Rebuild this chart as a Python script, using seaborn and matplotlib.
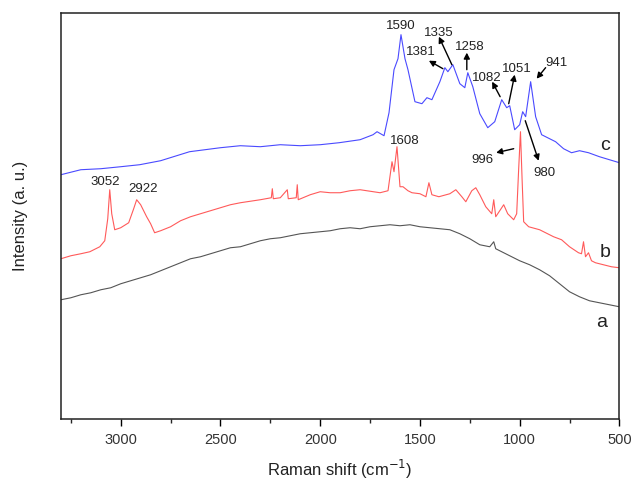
import numpy as np
import pandas as pd
import matplotlib
matplotlib.use("Agg")
import matplotlib.pyplot as plt
import seaborn as sns
from matplotlib.ticker import MultipleLocator

# spectrum a (black)
wave_a = [3300, 3250, 3200, 3150, 3100, 3050, 3000, 2950, 2900, 2850, 2800, 2750,
          2700, 2650, 2600, 2550, 2500, 2450, 2400, 2350, 2300, 2250, 2200, 2150,
          2100, 2050, 2000, 1950, 1900, 1850, 1800, 1750, 1700, 1650, 1600, 1550,
          1500, 1450, 1400, 1350, 1300, 1250, 1200, 1150, 1130, 1120, 1100, 1050,
          1000, 950, 900, 850, 800, 750, 700, 650, 600, 550, 500]
int_a = [119, 121, 124, 126, 129, 131, 135, 138, 141, 144, 148, 152,
         156, 160, 162, 165, 168, 171, 172, 175, 178, 180, 181, 183,
         185, 186, 187, 188, 190, 191, 190, 192, 193, 194, 193, 194,
         192, 191, 190, 189, 185, 180, 174, 172, 177, 170, 168, 163,
         158, 154, 149, 143, 135, 127, 122, 118, 116, 114, 112]

# spectrum b (red)
wave_b = [3300, 3250, 3200, 3155, 3105, 3080, 3065, 3055, 3045, 3030, 3000, 2960,
          2935, 2920, 2900, 2870, 2850, 2830, 2800, 2750, 2700, 2650, 2600, 2550,
          2500, 2450, 2400, 2300, 2245, 2240, 2235, 2200, 2165, 2160, 2120, 2115,
          2110, 2050, 2000, 1950, 1900, 1850, 1800, 1700, 1660, 1640, 1630, 1615,
          1600, 1585, 1560, 1540, 1500, 1470, 1455, 1440, 1405, 1350, 1320, 1290,
          1270, 1240, 1220, 1200, 1170, 1140, 1130, 1120, 1100, 1080, 1060, 1030,
          1015, 1005, 996, 988, 980, 955, 900, 870, 830, 790, 750, 705,
          690, 680, 670, 655, 640, 620, 580, 540, 500]
int_b = [160, 163, 165, 167, 172, 178, 200, 229, 205, 189, 191, 196,
         210, 219, 214, 202, 195, 186, 188, 192, 198, 202, 205, 208,
         211, 214, 216, 219, 221, 230, 220, 221, 229, 220, 221, 234,
         219, 224, 227, 226, 226, 228, 229, 226, 228, 257, 247, 272,
         232, 232, 228, 226, 225, 222, 236, 224, 222, 225, 229, 222,
         217, 228, 231, 224, 212, 205, 219, 202, 208, 214, 205, 199,
         205, 250, 287, 240, 197, 192, 189, 186, 182, 179, 172, 166,
         165, 177, 162, 166, 158, 156, 154, 152, 151]

# spectrum c (blue)
wave_c = [3300, 3200, 3100, 3000, 2905, 2800, 2655, 2500, 2400, 2300, 2200, 2100,
          2000, 1905, 1800, 1735, 1715, 1680, 1655, 1630, 1610, 1595, 1575, 1560,
          1525, 1490, 1465, 1440, 1400, 1375, 1360, 1335, 1300, 1275, 1260, 1235,
          1200, 1160, 1125, 1090, 1065, 1050, 1025, 1000, 985, 970, 945, 920,
          890, 850, 820, 780, 740, 700, 655, 600, 500]
int_c = [244, 249, 250, 252, 254, 258, 267, 271, 273, 272, 274, 273,
         274, 276, 279, 284, 287, 283, 306, 349, 360, 384, 360, 349,
         317, 315, 321, 319, 337, 351, 347, 354, 335, 331, 346, 332,
         305, 291, 297, 319, 311, 313, 289, 294, 307, 302, 337, 302,
         284, 280, 277, 270, 266, 268, 266, 262, 256]

# peak labels: text, text position, arrow (tail, head) or None
peak_text = ["1590", "1335", "1381", "1258", "1082", "1051", "941", "996", "980",
             "3052", "2922", "1608"]
peak_xy = [(1595, 393), (1405, 386), (1495, 367), (1250, 372), (1165, 341),
           (1015, 350), (815, 356), (1185, 259), (875, 246),
           (3080, 237), (2890, 230), (1575, 278)]
arrow_tail = [None, (1340, 354), (1385, 350), (1265, 349), (1098, 322),
              (1055, 315), (870, 351), (1030, 270), (972, 298), None, None, None]
arrow_head = [None, (1405, 382), (1455, 358), (1265, 366), (1138, 337),
              (1025, 344), (915, 340), (1118, 266), (905, 258), None, None, None]

curve_names = ["a", "b", "c"]
curve_name_xy = [(588, 96), (570, 166), (570, 273)]

sns.set_style("ticks")
plt.rcParams['font.family'] = ['Liberation Sans', 'DejaVu Sans']

fig = plt.figure(figsize=(6.34, 4.87), dpi=100)
ax = fig.add_axes([0.096, 0.140, 0.881, 0.834])

df_a = pd.DataFrame({"w": wave_a, "i": int_a})
df_b = pd.DataFrame({"w": wave_b, "i": int_b})
df_c = pd.DataFrame({"w": wave_c, "i": int_c})
sns.lineplot(data=df_a, x="w", y="i", color="#555555", lw=0.8, ax=ax, sort=False)
sns.lineplot(data=df_b, x="w", y="i", color="#ff5a5a", lw=0.8, ax=ax, sort=False)
sns.lineplot(data=df_c, x="w", y="i", color="#4a4aff", lw=0.8, ax=ax, sort=False)

ax.set_xlim(3300, 500)
ax.set_ylim(0, 406)
ax.xaxis.set_major_locator(MultipleLocator(500))
ax.xaxis.set_minor_locator(MultipleLocator(250))
ax.set_yticks([])
ax.tick_params(axis="x", which="major", direction="out", length=5, width=1,
               labelsize=10.5, colors="black", pad=5)
ax.tick_params(axis="x", which="minor", direction="out", length=3, width=1)
ax.tick_params(axis="x", labelcolor="#333333")
for s in ax.spines.values():
    s.set_linewidth(1.1)
    s.set_color("#222222")

ax.set_xlabel("Raman shift (cm$^{-1}$)", fontsize=12, color="#222222", labelpad=8)
ax.set_ylabel("Intensity (a. u.)", fontsize=12, color="#222222", labelpad=24)

for t, xy, tail, head in zip(peak_text, peak_xy, arrow_tail, arrow_head):
    ax.text(xy[0], xy[1], t, fontsize=9.5, ha="center", va="center", color="#222222")
    if tail is not None:
        ax.annotate("", xy=head, xytext=tail,
                    arrowprops=dict(arrowstyle="-|>,head_length=0.35,head_width=0.18",
                                    color="black", lw=1.0, shrinkA=0, shrinkB=0))

for n, xy in zip(curve_names, curve_name_xy):
    ax.text(xy[0], xy[1], n, fontsize=14, ha="center", va="center", color="#222222")

fig.savefig("out.png", dpi=100)
